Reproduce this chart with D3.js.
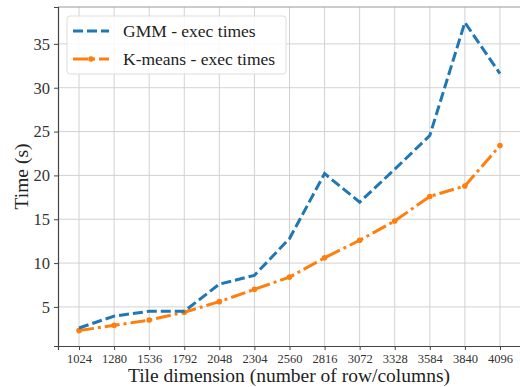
<!DOCTYPE html>
<html>
<head>
<meta charset="utf-8">
<script src="https://cdn.jsdelivr.net/npm/d3@7"></script>
<style>
  body { margin: 0; background: #fff; }
</style>
</head>
<body>
<div id="chart"></div>
<script>
// tile sizes and measured times (s)
const tileDims = [1024, 1280, 1536, 1792, 2048, 2304, 2560, 2816, 3072, 3328, 3584, 3840, 4096];
const gmmTimes = [2.6, 3.95, 4.5, 4.5, 7.6, 8.6, 12.8, 20.2, 16.95, 20.7, 24.55, 37.45, 31.6];
const kmeansTimes = [2.3, 2.9, 3.5, 4.4, 5.6, 7.0, 8.4, 10.6, 12.6, 14.8, 17.6, 18.8, 23.4];
const yTicks = [5, 10, 15, 20, 25, 30, 35];
const legendLabels = ["GMM - exec times", "K-means - exec times"];

const W = 520, H = 387;
const plot = { left: 58, right: 521, top: 7, bottom: 346 };
const serif = "'Liberation Serif', 'DejaVu Serif', serif";

const svg = d3.select("#chart").append("svg")
  .attr("width", W).attr("height", H);

const x = d3.scaleLinear()
  .domain([1024 - 0.05 * 3072, 4096 + 0.05 * 3072])
  .range([plot.left, plot.right]);

const yMin = d3.min(kmeansTimes), yMax = d3.max(gmmTimes);
const pad = 0.05 * (yMax - yMin);
const y = d3.scaleLinear()
  .domain([yMin - pad, yMax + pad])
  .range([plot.bottom, plot.top]);

// grid
const grid = svg.append("g").attr("stroke", "#d2d2d2").attr("stroke-width", 1);
grid.selectAll(".gx").data(tileDims).join("line")
  .attr("x1", d => x(d)).attr("x2", d => x(d))
  .attr("y1", plot.top).attr("y2", plot.bottom);
grid.selectAll(".gy").data(yTicks).join("line")
  .attr("x1", plot.left).attr("x2", plot.right)
  .attr("y1", d => y(d)).attr("y2", d => y(d));

// top spine
svg.append("line").attr("x1", plot.left).attr("x2", plot.right)
  .attr("y1", plot.top).attr("y2", plot.top)
  .attr("stroke", "#999").attr("stroke-width", 1.2);

// axes
const xAxis = svg.append("g")
  .attr("transform", `translate(0,${plot.bottom})`)
  .attr("font-family", serif)
  .call(d3.axisBottom(x).tickValues(tileDims).tickFormat(d3.format("d")).tickSize(4).tickPadding(4));
xAxis.attr("font-family", serif);
xAxis.selectAll("text").style("font-family", serif).style("font-size", "12.5px").attr("fill", "#333");

const yAxis = svg.append("g")
  .attr("transform", `translate(${plot.left},0)`)
  .call(d3.axisLeft(y).tickValues(yTicks).tickSize(4).tickPadding(4));
yAxis.attr("font-family", serif);
yAxis.selectAll("text").style("font-family", serif).style("font-size", "16.5px").attr("fill", "#333");

svg.selectAll(".domain").attr("stroke", "#444").attr("stroke-width", 1.2);
svg.selectAll(".tick line").attr("stroke", "#444");

// lines
const line = d3.line().x((d, i) => x(tileDims[i])).y(d => y(d));

svg.append("path").datum(kmeansTimes)
  .attr("d", line).attr("fill", "none")
  .attr("stroke", "#ff7f0e").attr("stroke-width", 3)
  .attr("stroke-dasharray", "15,4,3,4");
svg.selectAll(".km").data(kmeansTimes).join("circle")
  .attr("cx", (d, i) => x(tileDims[i])).attr("cy", d => y(d))
  .attr("r", 2.8).attr("fill", "#ff7f0e");

svg.append("path").datum(gmmTimes)
  .attr("d", line).attr("fill", "none")
  .attr("stroke", "#1f77b4").attr("stroke-width", 3)
  .attr("stroke-dasharray", "10,4");

// axis labels
svg.append("text")
  .attr("x", 289).attr("y", 382)
  .attr("text-anchor", "middle")
  .style("font-family", serif).style("font-size", "19.5px").attr("fill", "#222")
  .text("Tile dimension (number of row/columns)");

svg.append("text")
  .attr("transform", `translate(28,${(plot.top + plot.bottom) / 2}) rotate(-90)`)
  .attr("text-anchor", "middle")
  .style("font-family", serif).style("font-size", "19.5px").attr("fill", "#222")
  .text("Time (s)");

// legend
const lg = svg.append("g");
lg.append("rect").attr("x", 67).attr("y", 16).attr("width", 219).attr("height", 58)
  .attr("rx", 3).attr("fill", "#fff").attr("fill-opacity", 0.85)
  .attr("stroke", "#ddd").attr("stroke-width", 1);
lg.append("line").attr("x1", 73).attr("x2", 109).attr("y1", 31).attr("y2", 31)
  .attr("stroke", "#1f77b4").attr("stroke-width", 3).attr("stroke-dasharray", "10,4");
lg.append("line").attr("x1", 73).attr("x2", 109).attr("y1", 59).attr("y2", 59)
  .attr("stroke", "#ff7f0e").attr("stroke-width", 3).attr("stroke-dasharray", "15,4,3,4");
lg.append("circle").attr("cx", 91).attr("cy", 59).attr("r", 2.8).attr("fill", "#ff7f0e");
lg.selectAll(".lt").data(legendLabels).join("text")
  .attr("x", 123).attr("y", (d, i) => 37 + i * 28)
  .style("font-family", serif).style("font-size", "17.5px").attr("fill", "#222")
  .text(d => d);
</script>
</body>
</html>
